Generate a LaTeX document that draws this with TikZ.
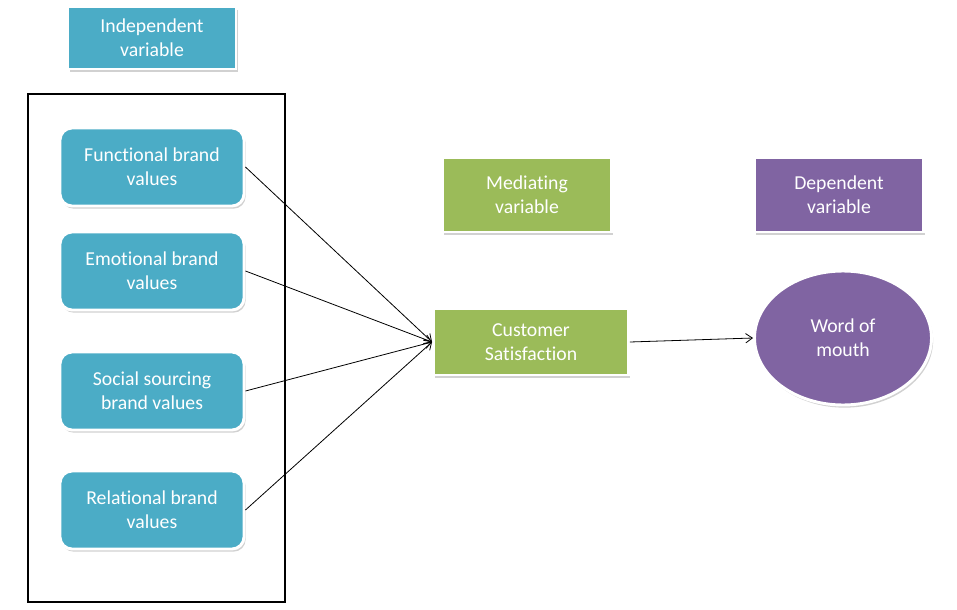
\documentclass[tikz,border=0pt]{standalone}
\usepackage{fontspec}
\setmainfont{Carlito}[Ligatures=NoCommon]
\usetikzlibrary{shapes.geometric,shadows,arrows.meta}
\definecolor{tealc}{HTML}{4BACC6}
\definecolor{greenc}{HTML}{9BBB59}
\definecolor{purplec}{HTML}{8064A2}
\tikzset{
  base/.style={draw=white, line width=2.2pt, text=white, align=center,
    font=\fontsize{14.8pt}{18pt}\selectfont, inner sep=0pt,
    drop shadow={shadow xshift=1.2pt, shadow yshift=-2pt, fill=black!40, opacity=0.45}},
  headbox/.style={base, rectangle},
  valbox/.style={base, rectangle, rounded corners=9pt, fill=tealc,
    minimum width=184*0.75pt, minimum height=78*0.75pt},
  link/.style={-{Straight Barb[length=5pt,width=7pt]}, line width=0.6pt, black},
}
\begin{document}
\begin{tikzpicture}[x=0.75pt,y=-0.75pt]
\useasboundingbox (0,0) rectangle (957,610);
\node[headbox, fill=tealc, minimum width=168*0.75pt, minimum height=62*0.75pt] (indep) at (152,38) {Independent\\variable};
\node[draw=black, line width=1.6pt, minimum width=257*0.75pt, minimum height=508*0.75pt, inner sep=0pt] (frame) at (156.5,348) {};
\node[valbox] (func) at (152,167) {Functional brand\\values};
\node[valbox] (emo) at (152,271) {Emotional brand\\values};
\node[valbox] (soc) at (152,391) {Social sourcing\\brand values};
\node[valbox] (rel) at (152,510) {Relational brand\\values};
\node[headbox, fill=greenc, minimum width=169*0.75pt, minimum height=74*0.75pt] (med) at (527,195) {Mediating\\variable};
\node[headbox, fill=purplec, minimum width=169*0.75pt, minimum height=74*0.75pt] (dep) at (839,195) {Dependent\\variable};
\node[headbox, fill=greenc, minimum width=195*0.75pt, minimum height=66*0.75pt] (cust) at (531,342) {Customer\\Satisfaction};
\node[base, ellipse, fill=purplec, minimum width=177*0.75pt, minimum height=134*0.75pt] (wom) at (843,338) {Word of\\mouth};
\draw[link] (func.east) -- (cust.west);
\draw[link] (emo.east) -- (cust.west);
\draw[link] (soc.east) -- (cust.west);
\draw[link] (rel.east) -- (cust.west);
\draw[link] (cust.east) -- (wom.west);
\end{tikzpicture}
\end{document}
